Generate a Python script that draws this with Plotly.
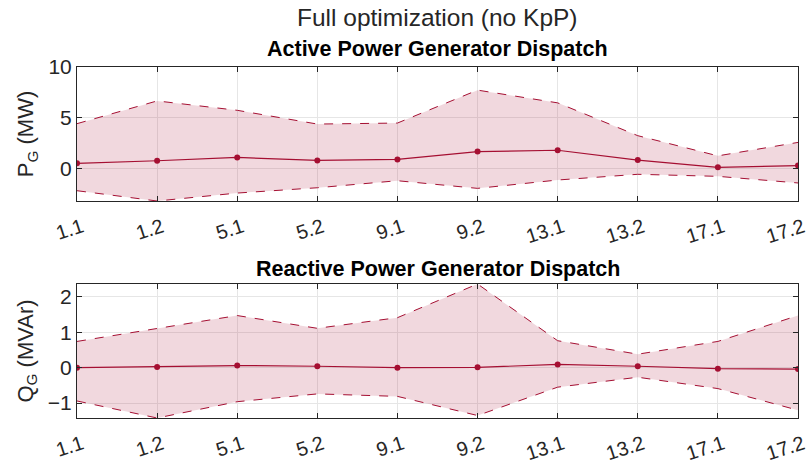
import plotly.graph_objects as go

categories = ["1.1", "1.2", "5.1", "5.2", "9.1", "9.2", "13.1", "13.2", "17.1", "17.2"]

p_mean = [0.55, 0.80, 1.13, 0.83, 0.93, 1.70, 1.83, 0.87, 0.15, 0.33]
p_upper = [4.44, 6.67, 5.75, 4.40, 4.50, 7.73, 6.48, 3.26, 1.28, 2.60]
p_lower = [-2.14, -3.15, -2.37, -1.85, -1.16, -1.91, -1.09, -0.53, -0.73, -1.38]

q_mean = [0.00, 0.02, 0.06, 0.04, 0.00, 0.01, 0.09, 0.04, -0.03, -0.04]
q_upper = [0.74, 1.11, 1.47, 1.11, 1.41, 2.36, 0.76, 0.38, 0.74, 1.47]
q_lower = [-0.94, -1.42, -0.96, -0.74, -0.81, -1.35, -0.55, -0.27, -0.59, -1.20]

LINE = "#A50F32"
FILL = "rgba(165,15,50,0.16)"
FONT = "Liberation Sans"

xs = list(range(len(categories)))

fig = go.Figure()

def add_band(mean, up, lo, xa, ya):
    fig.add_trace(go.Scatter(x=xs, y=up, mode="lines", xaxis=xa, yaxis=ya,
                             line=dict(color=LINE, width=1, dash="dash"),
                             showlegend=False, hoverinfo="skip"))
    fig.add_trace(go.Scatter(x=xs, y=lo, mode="lines", xaxis=xa, yaxis=ya,
                             line=dict(color=LINE, width=1, dash="dash"),
                             fill="tonexty", fillcolor=FILL,
                             showlegend=False, hoverinfo="skip"))
    fig.add_trace(go.Scatter(x=xs, y=mean, mode="lines+markers", xaxis=xa, yaxis=ya,
                             line=dict(color=LINE, width=1.2),
                             marker=dict(color=LINE, size=6),
                             showlegend=False))

add_band(p_mean, p_upper, p_lower, "x", "y")
add_band(q_mean, q_upper, q_lower, "x2", "y2")

H = 465.0
def dom(top_px, bot_px):
    return [1 - bot_px / H, 1 - top_px / H]

axis_common = dict(
    showline=True, linecolor="#262626", linewidth=1, mirror="allticks",
    ticks="inside", ticklen=5, tickcolor="#262626",
    showgrid=True, gridcolor="#E6E6E6", gridwidth=1,
    zeroline=False, automargin=False,
)
xaxis_extra = dict(tickvals=xs, ticktext=categories, tickangle=-18, range=[0, 9],
                   domain=[0, 1], ticklabelstandoff=6, ticklabelshift=5,
                   ticklabeloverflow="allow",
                   tickfont=dict(family=FONT, size=20, color="#262626"))
yfont = dict(family=FONT, size=21, color="#262626")

fig.update_layout(
    width=807, height=465,
    margin=dict(l=77, r=9, t=0, b=0, autoexpand=False),
    plot_bgcolor="white", paper_bgcolor="white",
    font=dict(family=FONT, color="#262626"),
    xaxis=dict(axis_common, anchor="y", **xaxis_extra),
    yaxis=dict(axis_common, domain=dom(67, 201), anchor="x", tickfont=yfont,
               range=[-3.15, 10], tickvals=[0, 5, 10],
               title=dict(text="P<sub>G</sub> (MW)", font=dict(family=FONT, size=22, color="#262626"), standoff=8)),
    xaxis2=dict(axis_common, anchor="y2", **xaxis_extra),
    yaxis2=dict(axis_common, domain=dom(284, 418), anchor="x2", tickfont=yfont,
                range=[-1.42, 2.36], tickvals=[-1, 0, 1, 2],
                title=dict(text="Q<sub>G</sub> (MVAr)", font=dict(family=FONT, size=22, color="#262626"), standoff=8)),
    annotations=[
        dict(text="Full optimization (no KpP)", x=0.5, y=1 - 17 / H, xref="paper", yref="paper",
             showarrow=False, font=dict(family=FONT, size=24.5, color="#262626"), yanchor="middle"),
        dict(text="<b>Active Power Generator Dispatch</b>", x=0.5, y=1 - 49 / H, xref="paper", yref="paper",
             showarrow=False, font=dict(family=FONT, size=21.5, color="black"), yanchor="middle"),
        dict(text="<b>Reactive Power Generator Dispatch</b>", x=0.5, y=1 - 269 / H, xref="paper", yref="paper",
             showarrow=False, font=dict(family=FONT, size=21.5, color="black"), yanchor="middle"),
    ],
)

fig.write_html("out.html")
